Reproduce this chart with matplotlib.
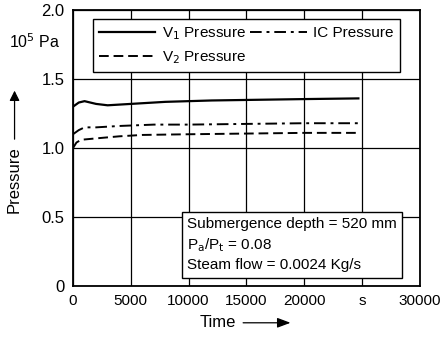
import matplotlib
matplotlib.use('Agg')
import matplotlib.pyplot as plt
import numpy as np

plt.rcParams['font.family'] = ['Liberation Sans', 'DejaVu Sans']

# data (time in s, pressure in 1e5 Pa)
t_v1 = [0, 500, 1000, 2000, 3000, 5000, 8000, 12000, 16000, 20000, 24700]
p_v1 = [1.30, 1.33, 1.34, 1.32, 1.31, 1.32, 1.335, 1.345, 1.35, 1.355, 1.36]

t_ic = [0, 500, 1000, 2000, 4000, 7000, 10000, 15000, 20000, 24700]
p_ic = [1.10, 1.13, 1.15, 1.15, 1.16, 1.17, 1.17, 1.175, 1.18, 1.18]

t_v2 = [0, 300, 700, 2000, 4000, 6000, 10000, 15000, 20000, 24700]
p_v2 = [1.00, 1.04, 1.06, 1.07, 1.085, 1.095, 1.10, 1.105, 1.11, 1.11]

xticks = [0, 5000, 10000, 15000, 20000, 25000, 30000]
xticklabels = ['0', '5000', '10000', '15000', '20000', 's', '30000']
yticks = [0, 0.5, 1.0, 1.5, 2.0]
yticklabels = ['0', '0.5', '1.0', '1.5', '2.0']

fig = plt.figure(figsize=(4.41, 3.38), dpi=100)
ax = fig.add_axes([0.1655, 0.154, 0.786, 0.816])

l1, = ax.plot(t_v1, p_v1, color='black', lw=1.6, ls='-')
l2, = ax.plot(t_v2, p_v2, color='black', lw=1.4, ls=(0, (5, 2.5)))
l3, = ax.plot(t_ic, p_ic, color='black', lw=1.4, ls=(0, (6, 2.5, 1.5, 2.5)))

ax.set_xlim(0, 30000)
ax.set_ylim(0, 2.0)
ax.set_xticks(xticks)
ax.set_xticklabels(xticklabels)
ax.set_yticks(yticks)
ax.set_yticklabels(yticklabels)
ax.tick_params(axis='y', length=0, labelsize=12, pad=6)
ax.tick_params(axis='x', length=0, labelsize=11, pad=6)
ax.grid(True, color='black', lw=0.9)
for s in ax.spines.values():
    s.set_linewidth(1.3)

ax.text(-0.035, 0.885, r'10$^5$ Pa', transform=ax.transAxes, ha='right', va='center', fontsize=11.5)

leg = ax.legend([l1, l2, l3], ['V$_1$ Pressure', 'V$_2$ Pressure', 'IC Pressure'],
                ncol=2, loc='upper left', bbox_to_anchor=(0.035, 0.995),
                fontsize=11, frameon=True, fancybox=False, edgecolor='black',
                framealpha=1, handlelength=3.7, columnspacing=0.3, borderpad=0.4,
                labelspacing=0.5, handletextpad=0.4)
leg.get_frame().set_linewidth(1.0)

ax.text(0.33, 0.05,
        'Submergence depth = 520 mm\nP$_\\mathrm{a}$/P$_\\mathrm{t}$ = 0.08\nSteam flow = 0.0024 Kg/s',
        transform=ax.transAxes, ha='left', va='bottom', fontsize=11, linespacing=1.4,
        bbox=dict(boxstyle='square,pad=0.35', fc='white', ec='black', lw=1.0))

# axis labels with arrows
fig.text(0.033, 0.47, 'Pressure', rotation=90, ha='center', va='center', fontsize=12)
fig.add_artist(matplotlib.patches.FancyArrowPatch((0.033, 0.58), (0.033, 0.74),
               transform=fig.transFigure, arrowstyle='-|>,head_length=6,head_width=3',
               color='black', lw=0.9))
fig.text(0.495, 0.045, 'Time', ha='center', va='center', fontsize=12)
fig.add_artist(matplotlib.patches.FancyArrowPatch((0.545, 0.045), (0.665, 0.045),
               transform=fig.transFigure, arrowstyle='-|>,head_length=8,head_width=3',
               color='black', lw=0.9))

fig.savefig('out.png', dpi=100)
